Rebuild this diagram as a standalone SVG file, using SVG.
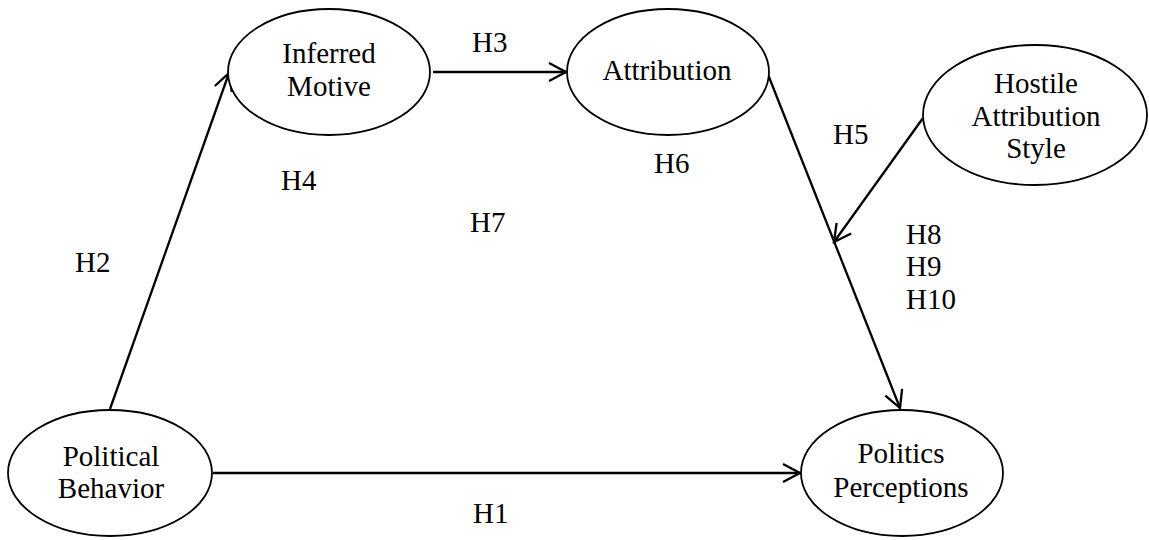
<svg xmlns="http://www.w3.org/2000/svg" width="1149" height="540" viewBox="0 0 1149 540">
<style>
.node ellipse{fill:#fff;stroke:#000;stroke-width:1.8}
text{font-family:'Liberation Serif','Times New Roman',serif;font-size:29px;fill:#000}
.node text{text-anchor:middle}
.conn line{stroke:#000;stroke-width:2.3;fill:none;marker-end:url(#arr)}
</style>
<defs>
<marker id="arr" markerUnits="userSpaceOnUse" markerWidth="30" markerHeight="30" viewBox="-20 -15 25 30" refX="0" refY="0" orient="auto">
<path d="M-17,-9 L0,0 L-17,9" fill="none" stroke="#000" stroke-width="2.3"/>
</marker>
</defs>
<rect width="1149" height="540" fill="#fff"/>
<g class="conn" id="connectors">
<line x1="213" y1="473" x2="800" y2="473"/>
<line x1="110" y1="409" x2="229" y2="73"/>
<line x1="433" y1="72" x2="566" y2="72"/>
<line x1="767" y1="72" x2="900" y2="408"/>
<line x1="923" y1="118" x2="834" y2="242"/>
</g>
<g class="node" id="political-behavior">
<ellipse cx="110" cy="473" rx="102" ry="63"/>
<text x="111" y="466">Political</text>
<text x="111" y="498">Behavior</text>
</g>
<g class="node" id="inferred-motive">
<ellipse cx="329" cy="72" rx="101" ry="63"/>
<text x="329" y="63">Inferred</text>
<text x="329" y="96">Motive</text>
</g>
<g class="node" id="attribution">
<ellipse cx="668" cy="72" rx="101" ry="63"/>
<text x="667" y="80">Attribution</text>
</g>
<g class="node" id="hostile-attribution-style">
<ellipse cx="1035" cy="115" rx="112" ry="70"/>
<text x="1036" y="93">Hostile</text>
<text x="1036" y="126">Attribution</text>
<text x="1036" y="158">Style</text>
</g>
<g class="node" id="politics-perceptions">
<ellipse cx="902" cy="473" rx="101" ry="63"/>
<text x="901" y="463">Politics</text>
<text x="901" y="497">Perceptions</text>
</g>
<g id="labels">
<text x="473" y="523">H1</text>
<text x="75" y="272">H2</text>
<text x="472" y="52">H3</text>
<text x="281" y="190">H4</text>
<text x="833" y="144">H5</text>
<text x="654" y="173">H6</text>
<text x="470" y="232">H7</text>
<text x="906" y="244">H8</text>
<text x="906" y="276">H9</text>
<text x="906" y="309">H10</text>
</g>
</svg>
